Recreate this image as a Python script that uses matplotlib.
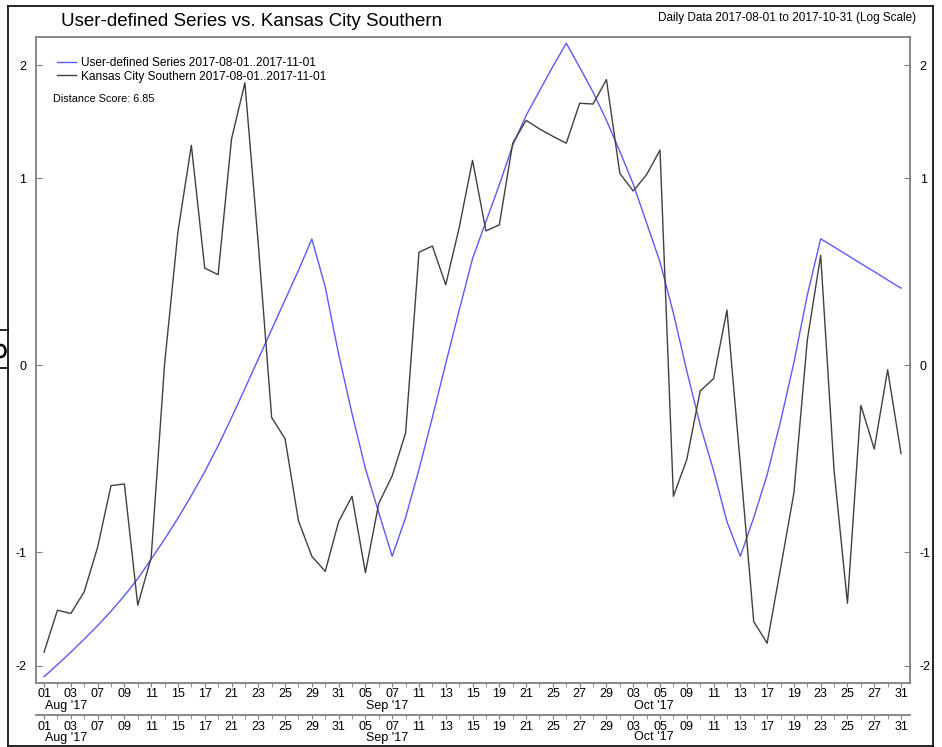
import numpy as np
import matplotlib.pyplot as plt
from matplotlib import transforms
from matplotlib.lines import Line2D
from matplotlib.patches import Ellipse
from matplotlib.ticker import FixedLocator, NullLocator

plt.rcParams['font.family'] = ['Liberation Sans', 'DejaVu Sans']

# trading days, Aug - Oct 2017
aug_days = [1, 2, 3, 4, 7, 8, 9, 10, 11, 14, 15, 16, 17, 18, 21, 22, 23, 24, 25, 28, 29, 30, 31]
sep_days = [1, 5, 6, 7, 8, 11, 12, 13, 14, 15, 18, 19, 20, 21, 22, 25, 26, 27, 28, 29]
oct_days = [2, 3, 4, 5, 6, 9, 10, 11, 12, 13, 16, 17, 18, 19, 20, 23, 24, 25, 26, 27, 30, 31]
months = ["Aug '17", "Sep '17", "Oct '17"]

# user-defined series (blue)
user_series = [-2.129, -1.991, -1.855, -1.721, -1.591, -1.460, -1.328, -1.193, -1.049, -0.913,
               -0.780, -0.647, -0.516, -0.382, -0.245, -0.108, 0.029, 0.166, 0.307, 0.455,
               0.624, 0.371, 0.051, -0.225, -0.499, -0.747, -1.029, -0.776, -0.504, -0.244,
               0.008, 0.256, 0.517, 0.724, 0.956, 1.244, 1.494, 1.726, 1.984, 2.258,
               1.975, 1.714, 1.451, 1.197, 0.961, 0.716, 0.499, 0.244, -0.026, -0.280,
               -0.510, -0.801, -1.029, -0.776, -0.532, -0.263, 0.013, 0.331, 0.625, 0.580,
               0.535, 0.491, 0.449, 0.406, 0.365]

# Kansas City Southern (black)
kcs = [-1.855, -1.451, -1.480, -1.296, -0.967, -0.591, -0.582, -1.408, -1.038, 0.004,
       0.665, 1.244, 0.467, 0.433, 1.293, 1.808, 0.596, -0.244, -0.347, -0.796,
       -1.029, -1.138, -0.801, -0.651, -1.147, -0.691, -0.538, -0.319, 0.551, 0.585,
       0.382, 0.688, 1.129, 0.670, 0.705, 1.260, 1.451, 1.377, 1.316, 1.260,
       1.606, 1.599, 1.842, 1.035, 0.915, 1.026, 1.206, -0.651, -0.452, -0.119,
       -0.062, 0.258, -0.478, -1.553, -1.762, -1.117, -0.632, 0.117, 0.534, -0.510,
       -1.391, -0.186, -0.398, -0.021, -0.421]

distance_score = 6.85
yticks = [-2, -1, 0, 1, 2]

W, H = 942, 747


def px(x, y):
    # pixel position -> figure fraction
    return x / W, 1 - y / H


days = aug_days + sep_days + oct_days
x = np.arange(len(days))
major = x[::2]
minor = x[1::2]
day_labels = ["%02d" % days[i] for i in major]

# first labelled tick of each month
starts = [0, len(aug_days), len(aug_days) + len(sep_days)]
month_pos = [s if s % 2 == 0 else s + 1 for s in starts]

fig = plt.figure(figsize=(W / 100, H / 100), dpi=100)
ax = fig.add_axes([36 / W, 1 - 683 / H, 874 / W, 646 / H])

ax.plot(x, user_series, color='#5a5aff', lw=1.0,
        label='User-defined Series 2017-08-01..2017-11-01')
ax.plot(x, kcs, color='#404040', lw=1.0,
        label='Kansas City Southern 2017-08-01..2017-11-01')

ax.set_yscale('asinh', linear_width=0.9)
ax.set_ylim(-2.205, 2.337)
ax.set_xlim(-0.6, 64.67)

gray = '#808080'
for s in ax.spines.values():
    s.set_color(gray)
    s.set_linewidth(1.3)

ax.set_yticks(yticks, labels=[str(t) for t in yticks])
ax.yaxis.set_minor_locator(NullLocator())
ax.tick_params(axis='y', which='both', left=True, right=True, labelleft=True,
               labelright=True, direction='in', length=4, color=gray,
               labelsize=9, pad=7)

ax.set_xticks(major, labels=day_labels)
ax.xaxis.set_minor_locator(FixedLocator(minor))
ax.tick_params(axis='x', which='both', direction='out', length=3, color=gray,
               labelsize=9, pad=0.8)

# second date row
sec = ax.secondary_xaxis(-32 / 646)
sec.set_xticks(major, labels=day_labels)
sec.xaxis.set_minor_locator(FixedLocator(minor))
sec.tick_params(axis='x', which='both', direction='out', length=3, color=gray,
                labelsize=9, pad=1.5)
sec.spines['bottom'].set_color(gray)
sec.spines['bottom'].set_linewidth(1.3)

trans = transforms.blended_transform_factory(ax.transData, ax.transAxes)
for m, p in zip(months, month_pos):
    ax.text(p + 0.05, -22.7 / 646, m, transform=trans, ha='left', va='center', fontsize=9)
    ax.text(p + 0.05, -54.5 / 646, m, transform=trans, ha='left', va='center', fontsize=9)

leg = ax.legend(loc='upper left', bbox_to_anchor=px(57, 57), bbox_transform=fig.transFigure,
                frameon=False, fontsize=8.6, handlelength=1.6, handletextpad=0.45,
                labelspacing=0.14, borderpad=0, borderaxespad=0)

fig.text(*px(53, 99), 'Distance Score: %.2f' % distance_score, ha='left', va='center', fontsize=7.8)

fig.text(*px(251.5, 22), 'User-defined Series vs. Kansas City Southern',
         ha='center', va='center', fontsize=13.5)
fig.text(*px(916, 17.5), 'Daily Data 2017-08-01 to 2017-10-31 (Log Scale)',
         ha='right', va='center', fontsize=8.5)

# outer frame of the screenshot
frame = [((8, 6), (933, 6)), ((8, 6), (8, 746)), ((933, 6), (933, 746)),
         ((8, 746), (933, 746)), ((0, 330), (8, 330)), ((0, 368), (8, 368))]
for (x0, y0), (x1, y1) in frame:
    fx0, fy0 = px(x0, y0)
    fx1, fy1 = px(x1, y1)
    fig.add_artist(Line2D([fx0, fx1], [fy0, fy1], color='black', lw=1.2,
                          transform=fig.transFigure))
# clipped glyph of a neighbouring window at the left edge
fig.add_artist(Ellipse(px(1, 351), 9 / W, 12 / H, transform=fig.transFigure,
                       fill=False, edgecolor='black', lw=1.8))

plt.savefig('out.png', dpi=100)
